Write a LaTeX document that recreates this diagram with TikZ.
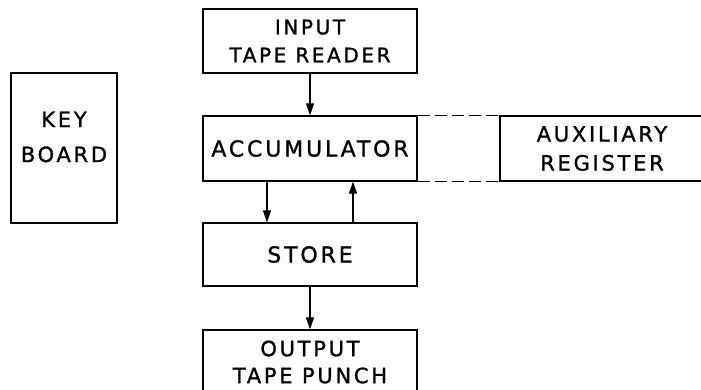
\documentclass[tikz,border=0pt]{standalone}
\usepackage{fontspec}
\setmainfont{DejaVu Sans}[LetterSpace=13,FakeBold=1.2]
\usetikzlibrary{arrows.meta}
\begin{document}
\begin{tikzpicture}[x=1pt,y=-1pt,
  box/.style={draw,line width=1.2pt,inner sep=0pt,align=center},
  arr/.style={line width=1.2pt,-{Triangle[length=12pt,width=8pt]}},
  dsh/.style={line width=1.2pt,dash pattern=on 12pt off 5pt}]
\useasboundingbox (0,0) rectangle (701,389);
\node[box,minimum width=214pt,minimum height=64pt,font=\fontsize{20}{28}\selectfont] (in) at (310,41) {INPUT\\TAPE READER};
\node[box,minimum width=214pt,minimum height=65pt,font=\fontsize{22}{28}\selectfont] (acc) at (310,148.5) {ACCUMULATOR};
\node[box,minimum width=214pt,minimum height=63pt,font=\fontsize{22}{28}\selectfont] (st) at (310,254.5) {STORE};
\node[box,minimum width=214pt,minimum height=64pt,font=\fontsize{21}{27}\selectfont] (out) at (310,362) {OUTPUT\\TAPE PUNCH};
\node[box,minimum width=204pt,minimum height=65pt,font=\fontsize{21}{29}\selectfont] (aux) at (602,148.5) {AUXILIARY\\REGISTER};
\node[box,minimum width=106pt,minimum height=150pt] (kb) at (64,148) {};
\node[font=\fontsize{21}{35}\selectfont,align=center] (kbt) at (64,137) {KEY\\BOARD};
\draw[arr] (in.south) -- (acc.north);
\draw[arr] (acc.south -| 267,0) -- (st.north -| 267,0);
\draw[arr] (st.north -| 353,0) -- (acc.south -| 353,0);
\draw[arr] (st.south) -- (out.north);
\draw[dsh] (acc.north east) -- (aux.north west);
\draw[dsh] (acc.south east) -- (aux.south west);
\end{tikzpicture}
\end{document}
